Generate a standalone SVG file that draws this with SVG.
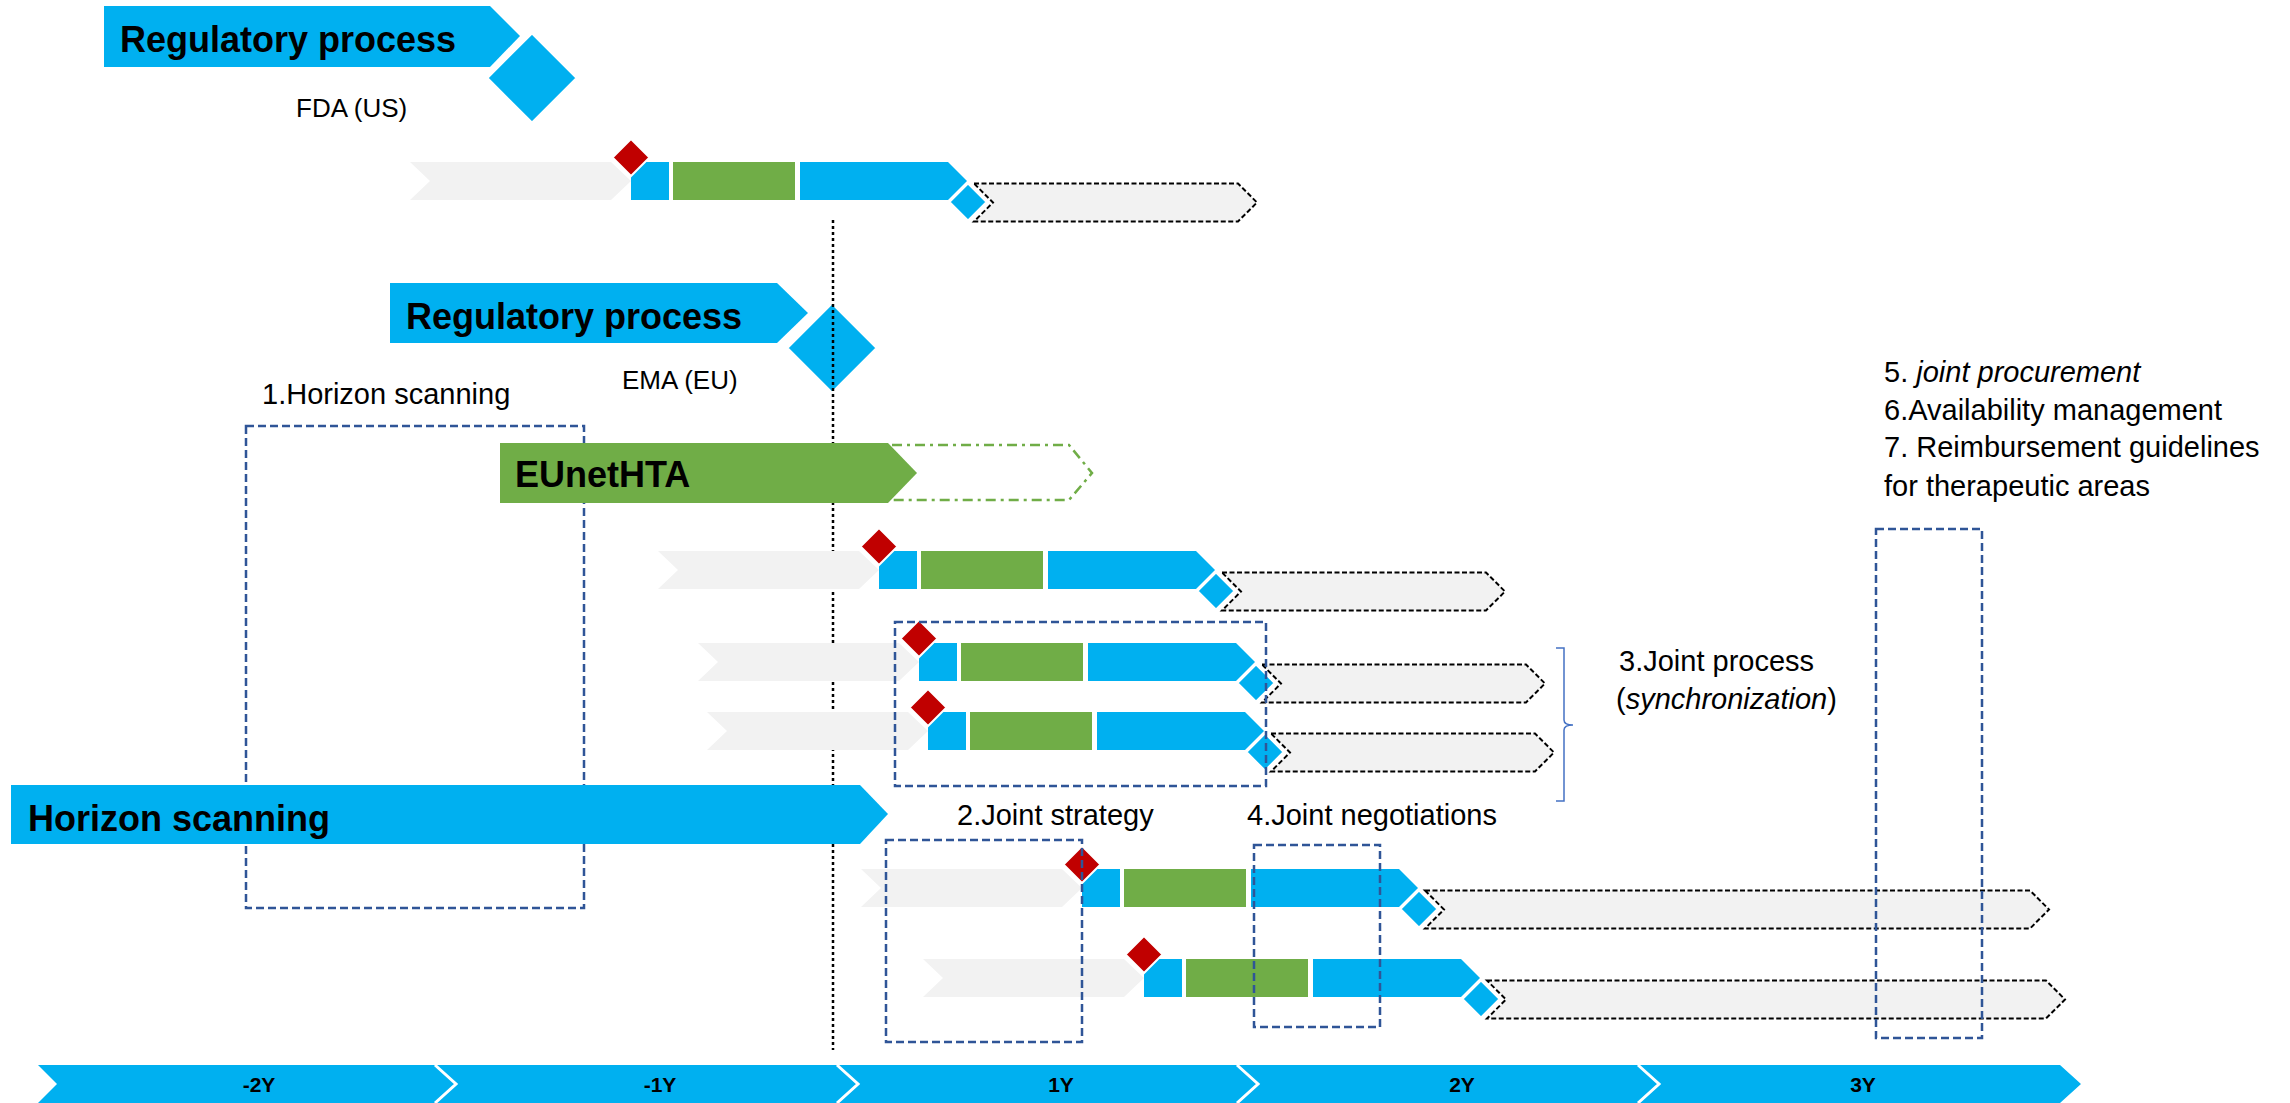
<svg xmlns="http://www.w3.org/2000/svg" xmlns:xlink="http://www.w3.org/1999/xlink" width="2290" height="1103" viewBox="0 0 2290 1103">
<style>
.blue{fill:#00B0F0}
.green{fill:#70AD47}
.gray{fill:#F2F2F2}
.red{fill:#C00000;stroke:#fff;stroke-width:2}
.bdia{fill:#00B0F0;stroke:#fff;stroke-width:2.5}
.dash{fill:#F2F2F2;stroke:#000;stroke-width:2;stroke-dasharray:5 2.5}
.box{fill:none;stroke:#2F5597;stroke-width:2.5;stroke-dasharray:8 4}
.title{font-family:"Liberation Sans",Arial,sans-serif;font-weight:bold;font-size:36px;fill:#000}
.t{font-family:"Liberation Sans",Arial,sans-serif;font-size:29px;fill:#000}
.ts{font-family:"Liberation Sans",Arial,sans-serif;font-size:26px;fill:#000}
.yr{font-family:"Liberation Sans",Arial,sans-serif;font-weight:bold;font-size:21px;fill:#000;text-anchor:middle}
</style>
<defs>
<g id="rowcore">
<path class="gray" d="M-221,0 H-20 L0,19 L-20,38 H-221 L-201,19 Z"/>
<rect class="blue" x="0" y="0" width="38" height="38"/>
<rect class="green" x="42" y="0" width="122" height="38"/>
<path class="blue" d="M169,0 H317 L336,19 L317,38 H169 Z"/>
<path class="bdia" d="M337,21 L356,40 L337,59 L318,40 Z"/>
<path class="red" d="M0,-23 L18.5,-4.5 L0,14 L-18.5,-4.5 Z"/>
</g>
</defs>
<rect width="2290" height="1103" fill="#fff"/>

<g id="fda-banner">
<path class="blue" d="M104,6 H490 L520,36 L490,67 H104 Z"/>
<path class="bdia" d="M532,33 L577,78 L532,123 L487,78 Z"/>
<text class="title" x="120" y="52">Regulatory process</text>
<text class="ts" x="296" y="117">FDA (US)</text>
</g>

<g id="ema-banner">
<path class="blue" d="M390,283 H777 L808,313 L777,343 H390 Z"/>
<path class="bdia" d="M832,303 L877,348 L832,393 L787,348 Z"/>
<text class="title" x="406" y="329">Regulatory process</text>
<text class="ts" x="622" y="389">EMA (EU)</text>
</g>

<g id="connectors">
<path d="M833,220 V1050" fill="none" stroke="#000" stroke-width="2.5" stroke-dasharray="3 3"/>
<path d="M1556,648 H1564 V720 Q1564,725 1573,725 Q1564,725 1564,730 V801 H1556" fill="none" stroke="#4472C4" stroke-width="1.5"/>
</g>

<g id="row-fda" transform="translate(631,162)">
<path class="dash" d="M343,21.5 H607 L626,40.5 L607,59.5 H343 L362,40.5 Z"/>
<use xlink:href="#rowcore"/>
</g>

<g id="horizon-box">
<rect class="box" x="246" y="426" width="338" height="482"/>
<text class="t" x="262" y="404">1.Horizon scanning</text>
</g>

<g id="eunethta">
<path d="M892,445 H1069 L1092,473 L1069,500 H892" fill="none" stroke="#70AD47" stroke-width="2.5" stroke-dasharray="10 5 3 5"/>
<path class="green" d="M500,443 H888 L917,473 L888,503 H500 Z"/>
<text class="title" x="515" y="487">EUnetHTA</text>
</g>

<g id="row-ema" transform="translate(879,551)">
<path class="dash" d="M343,21.5 H607 L626,40.5 L607,59.5 H343 L362,40.5 Z"/>
<use xlink:href="#rowcore"/>
</g>

<g id="row-joint-1" transform="translate(919,643)">
<path class="dash" d="M343,21.5 H607 L626,40.5 L607,59.5 H343 L362,40.5 Z"/>
<use xlink:href="#rowcore"/>
</g>

<g id="row-joint-2" transform="translate(928,712)">
<path class="dash" d="M343,21.5 H607 L626,40.5 L607,59.5 H343 L362,40.5 Z"/>
<use xlink:href="#rowcore"/>
</g>

<g id="joint-process">
<rect class="box" x="895" y="622" width="371" height="164"/>
<text class="t" x="1619" y="671">3.Joint process</text>
<text class="t" x="1616" y="709">(<tspan font-style="italic">synchronization</tspan>)</text>
</g>

<g id="horizon-banner">
<path class="blue" d="M11,785 H860 L888,814 L860,844 H11 Z"/>
<text class="title" x="28" y="831">Horizon scanning</text>
</g>

<g id="row-strategy" transform="translate(1082,869)">
<path class="dash" d="M343,21.5 H948 L967,40.5 L948,59.5 H343 L362,40.5 Z"/>
<use xlink:href="#rowcore"/>
</g>

<g id="row-negotiation" transform="translate(1144,959)">
<path class="dash" d="M343,21.5 H902 L921,40.5 L902,59.5 H343 L362,40.5 Z"/>
<use xlink:href="#rowcore"/>
</g>

<g id="joint-strategy">
<rect class="box" x="886" y="840" width="196" height="202"/>
<text class="t" x="957" y="825">2.Joint strategy</text>
</g>

<g id="joint-negotiations">
<rect class="box" x="1254" y="845" width="126" height="182"/>
<text class="t" x="1247" y="825">4.Joint negotiations</text>
</g>

<g id="procurement">
<rect class="box" x="1876" y="529" width="106" height="509"/>
<text class="t" x="1884" y="382">5. <tspan font-style="italic">joint procurement</tspan></text>
<text class="t" x="1884" y="420">6.Availability management</text>
<text class="t" x="1884" y="457">7. Reimbursement guidelines</text>
<text class="t" x="1884" y="496">for therapeutic areas</text>
</g>

<g id="timeline">
<path class="blue" d="M38,1065 H2060 L2081,1084 L2060,1103 H38 L57,1084 Z"/>
<g fill="none" stroke="#fff" stroke-width="3">
<path d="M435,1065 L456,1084 L435,1103"/>
<path d="M837,1065 L858,1084 L837,1103"/>
<path d="M1237,1065 L1258,1084 L1237,1103"/>
<path d="M1638,1065 L1659,1084 L1638,1103"/>
</g>
<text class="yr" x="259" y="1092">-2Y</text>
<text class="yr" x="660" y="1092">-1Y</text>
<text class="yr" x="1061" y="1092">1Y</text>
<text class="yr" x="1462" y="1092">2Y</text>
<text class="yr" x="1863" y="1092">3Y</text>
</g>
</svg>
